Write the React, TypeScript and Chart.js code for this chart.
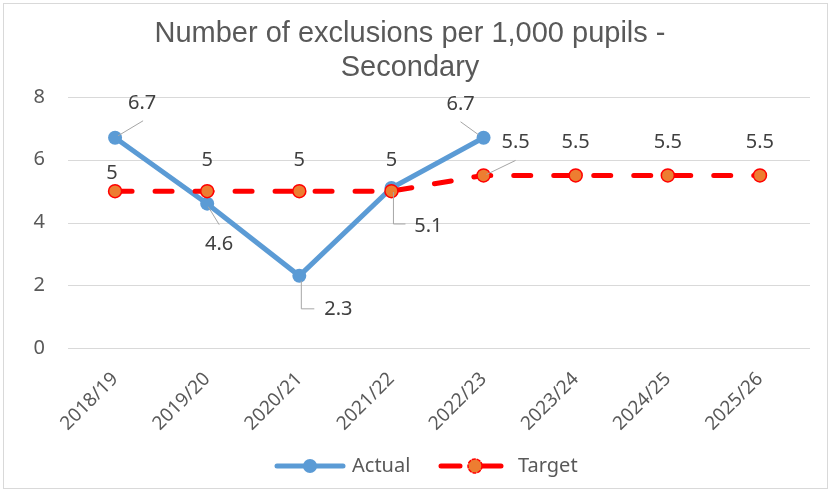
import React, { useEffect, useRef } from "react";
import { Chart, registerables } from "chart.js";

Chart.register(...registerables);

const categories = ["2018/19", "2019/20", "2020/21", "2021/22", "2022/23", "2023/24", "2024/25", "2025/26"];
const actualValues = [6.7, 4.6, 2.3, 5.1, 6.7, null, null, null];
const targetValues = [5, 5, 5, 5, 5.5, 5.5, 5.5, 5.5];
const yTicks = [0, 2, 4, 6, 8];
const titleLines = ["Number of exclusions per 1,000 pupils -", "Secondary"];
const seriesNames = ["Actual", "Target"];

const W = 831;
const H = 492;
const TEXT = "#595959";
const FONT = "'Noto Sans', sans-serif";
const BLUE = "#5B9BD5";
const RED = "#FF0000";
const ORANGE = "#ED7D31";

// label placement (style): [dx, dy] of label center, leader polyline relative to point
type LP = { dx: number; dy: number; leader?: number[][] };
const actualLabelPos: LP[] = [
  { dx: 27, dy: -34, leader: [[3, -2], [28, -17]] },
  { dx: 12, dy: 41, leader: [[1, 3], [12, 21]] },
  { dx: 39, dy: 33, leader: [[2, 5], [2, 33], [15, 33]] },
  { dx: 37, dy: 38, leader: [[2, 4], [2, 36], [14, 36]] },
  { dx: -23, dy: -33, leader: [[-5, -3], [-23, -16]] },
];
const targetLabelPos: LP[] = [
  { dx: -3, dy: -18 },
  { dx: 0, dy: -31 },
  { dx: 0, dy: -31 },
  { dx: 0, dy: -31 },
  { dx: 32, dy: -33, leader: [[3, -1], [32, -15]] },
  { dx: 0, dy: -33 },
  { dx: 0, dy: -33 },
  { dx: 0, dy: -33 },
];

const decorPlugin = {
  id: "decor",
  beforeDraw(chart: any) {
    const ctx = chart.ctx;
    ctx.save();
    ctx.fillStyle = "#FFFFFF";
    ctx.fillRect(0, 0, W, H);
    ctx.strokeStyle = "#D9D9D9";
    ctx.lineWidth = 1;
    ctx.strokeRect(3.5, 3.5, W - 7, H - 7);
    // title
    ctx.fillStyle = TEXT;
    ctx.font = "29px 'Liberation Sans', Arial, sans-serif";
    ctx.textAlign = "center";
    ctx.textBaseline = "alphabetic";
    ctx.fillText(titleLines[0], 410, 42);
    ctx.fillText(titleLines[1], 410, 76);
    ctx.restore();
  },
  beforeDatasetsDraw(chart: any) {
    const ctx = chart.ctx;
    const ys = chart.scales.y;
    ctx.save();
    ctx.strokeStyle = "#D9D9D9";
    ctx.lineWidth = 1;
    yTicks.forEach((v) => {
      const py = Math.round(ys.getPixelForValue(v)) + 0.5;
      ctx.beginPath();
      ctx.moveTo(68, py);
      ctx.lineTo(810, py);
      ctx.stroke();
    });
    ctx.restore();
  },
  afterDatasetsDraw(chart: any) {
    const ctx = chart.ctx;
    ctx.save();
    ctx.font = `20px ${FONT}`;
    ctx.textAlign = "center";
    ctx.textBaseline = "middle";
    const drawSet = (dsIndex: number, vals: (number | null)[], pos: LP[]) => {
      const meta = chart.getDatasetMeta(dsIndex);
      vals.forEach((v, i) => {
        if (v === null || !pos[i]) return;
        const el = meta.data[i];
        const p = pos[i];
        if (p.leader) {
          ctx.strokeStyle = "#A6A6A6";
          ctx.lineWidth = 1;
          ctx.beginPath();
          p.leader.forEach((q, k) => {
            if (k === 0) ctx.moveTo(el.x + q[0], el.y + q[1]);
            else ctx.lineTo(el.x + q[0], el.y + q[1]);
          });
          ctx.stroke();
        }
        ctx.fillStyle = "#404040";
        ctx.fillText(String(v), el.x + p.dx, el.y + p.dy);
      });
    };
    drawSet(0, actualValues, actualLabelPos);
    drawSet(1, targetValues, targetLabelPos);
    ctx.restore();
  },
  afterDraw(chart: any) {
    const ctx = chart.ctx;
    ctx.save();
    const y = 466;
    // Actual
    ctx.strokeStyle = BLUE;
    ctx.lineWidth = 5;
    ctx.lineCap = "round";
    ctx.beginPath();
    ctx.moveTo(277, y);
    ctx.lineTo(343, y);
    ctx.stroke();
    ctx.fillStyle = BLUE;
    ctx.beginPath();
    ctx.arc(310, y, 7, 0, Math.PI * 2);
    ctx.fill();
    // Target
    ctx.strokeStyle = RED;
    ctx.lineWidth = 5;
    ctx.beginPath();
    ctx.moveTo(441, y);
    ctx.lineTo(460, y);
    ctx.moveTo(482, y);
    ctx.lineTo(501, y);
    ctx.stroke();
    ctx.fillStyle = ORANGE;
    ctx.beginPath();
    ctx.arc(475, y, 7, 0, Math.PI * 2);
    ctx.fill();
    ctx.strokeStyle = RED;
    ctx.lineWidth = 1.5;
    ctx.setLineDash([3, 2]);
    ctx.stroke();
    ctx.setLineDash([]);
    ctx.fillStyle = TEXT;
    ctx.font = `20px ${FONT}`;
    ctx.textAlign = "left";
    ctx.textBaseline = "middle";
    ctx.fillText(seriesNames[0], 352, y);
    ctx.fillText(seriesNames[1], 518, y);
    ctx.restore();
  },
};

export default function App() {
  const ref = useRef<HTMLCanvasElement>(null);
  useEffect(() => {
    document.body.style.margin = "0";
    const chart = new Chart(ref.current as HTMLCanvasElement, {
      type: "line",
      data: {
        labels: categories,
        datasets: [
          {
            label: seriesNames[0],
            data: actualValues,
            borderColor: BLUE,
            backgroundColor: BLUE,
            borderWidth: 5,
            pointRadius: 7,
            pointBackgroundColor: BLUE,
            pointBorderColor: BLUE,
            pointBorderWidth: 0,
            order: 1,
            spanGaps: false,
          },
          {
            label: seriesNames[1],
            data: targetValues,
            borderColor: RED,
            backgroundColor: ORANGE,
            borderWidth: 5,
            borderDash: [17, 23],
            borderCapStyle: "round",
            pointRadius: 6.5,
            pointBackgroundColor: ORANGE,
            pointBorderColor: RED,
            pointBorderWidth: 1.5,
            order: 0,
          },
        ],
      },
      options: {
        responsive: false,
        animation: false,
        devicePixelRatio: 1,
        layout: { padding: { top: 97, left: 0, right: 25, bottom: 0 } },
        plugins: {
          legend: { display: false },
          title: { display: false },
          tooltip: { enabled: false },
        },
        scales: {
          x: {
            offset: true,
            grid: { display: false, drawTicks: false },
            border: { display: false },
            ticks: {
              color: TEXT,
              font: { family: FONT, size: 19 },
              minRotation: 45,
              maxRotation: 45,
              padding: 20,
              autoSkip: false,
            },
            afterFit: (s: any) => {
              s.height = H - 348;
            },
          },
          y: {
            min: 0,
            max: 8,
            afterBuildTicks: (s: any) => {
              s.ticks = yTicks.map((v) => ({ value: v }));
            },
            grid: { display: false, drawTicks: false },
            border: { display: false },
            ticks: {
              color: TEXT,
              font: { family: FONT, size: 20 },
              padding: 24,
            },
            afterFit: (s: any) => {
              s.width = 69;
            },
          },
        },
      },
      plugins: [decorPlugin],
    } as any);
    return () => chart.destroy();
  }, []);
  return <canvas ref={ref} width={W} height={H} style={{ display: "block", width: W, height: H }} />;
}
